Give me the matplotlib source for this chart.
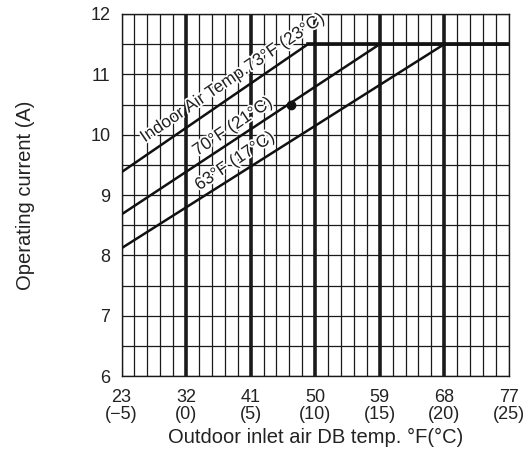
import numpy as np
import matplotlib
matplotlib.use('Agg')
import matplotlib.pyplot as plt
import matplotlib.patheffects as pe

plt.rcParams['font.family'] = ['Liberation Sans', 'DejaVu Sans']

# x ticks (°F with °C below)
tick_f = [23, 32, 41, 50, 59, 68, 77]
tick_c = [-5, 0, 5, 10, 15, 20, 25]
y_ticks = [6, 7, 8, 9, 10, 11, 12]

# operating current lines per indoor temp (outdoor °F, current A)
line73_x = [23, 49, 77]
line73_y = [9.38, 11.5, 11.5]
line70_x = [23, 59, 77]
line70_y = [8.68, 11.5, 11.5]
line63_x = [23, 68, 77]
line63_y = [8.12, 11.5, 11.5]

# marked point
pt_x = [46.6]
pt_y = [10.5]

labels = ['Indoor Air Temp.73°F (23°C)', '70°F (21°C)', '63°F (17°C)']
label_x = [38.5, 38.5, 38.8]
label_y = [10.94, 10.13, 9.56]

fig = plt.figure(figsize=(5.24, 4.51), dpi=100)
ax = fig.add_axes([0.232, 0.166, 0.739, 0.803])
ax.set_xlim(23, 77)
ax.set_ylim(6, 12)

# grid: 1°C steps vertically, 0.5 A horizontally
c_steps = np.arange(-5, 26)
for c in c_steps:
    f = c * 1.8 + 32
    lw = 2.6 if (c % 5 == 0 and -5 < c < 25) else 0.9
    ax.axvline(f, color='#1a1a1a', lw=lw, zorder=1)
for a in np.arange(6, 12.01, 0.5):
    ax.axhline(a, color='#1a1a1a', lw=0.9, zorder=1)

for xs, ys in [(line73_x, line73_y), (line70_x, line70_y), (line63_x, line63_y)]:
    ax.plot(xs, ys, color='#111111', lw=1.8, zorder=3, solid_capstyle='butt')
# thick cap line
ax.plot([line73_x[1], 77], [11.5, 11.5], color='#111111', lw=2.6, zorder=3)

ax.plot(pt_x, pt_y, 'o', color='#111111', ms=6, zorder=4)

for t, x, y in zip(labels, label_x, label_y):
    ax.text(x, y, t, rotation=34, ha='center', va='center', fontsize=12.5,
            color='#222222', zorder=5, rotation_mode='anchor',
            path_effects=[pe.withStroke(linewidth=2.5, foreground='white')])

ax.set_xticks(tick_f)
ax.set_xticklabels([f'{f}\n({c})'.replace('-', '\u2212') for f, c in zip(tick_f, tick_c)],
                   fontsize=13, linespacing=1.0)
ax.set_yticks(y_ticks)
ax.set_yticklabels([str(v) for v in y_ticks], fontsize=13)
ax.tick_params(length=0, pad=8, colors='#222222')
ax.tick_params(axis='x', pad=9)

for s in ax.spines.values():
    s.set_linewidth(1.0)
    s.set_color('#1a1a1a')

ax.set_xlabel('Outdoor inlet air DB temp. °F(°C)', fontsize=14.5, color='#222222', labelpad=4)
ax.set_ylabel('Operating current (A)', fontsize=14.5, color='#222222', labelpad=40)

fig.savefig('out.png', dpi=100)
